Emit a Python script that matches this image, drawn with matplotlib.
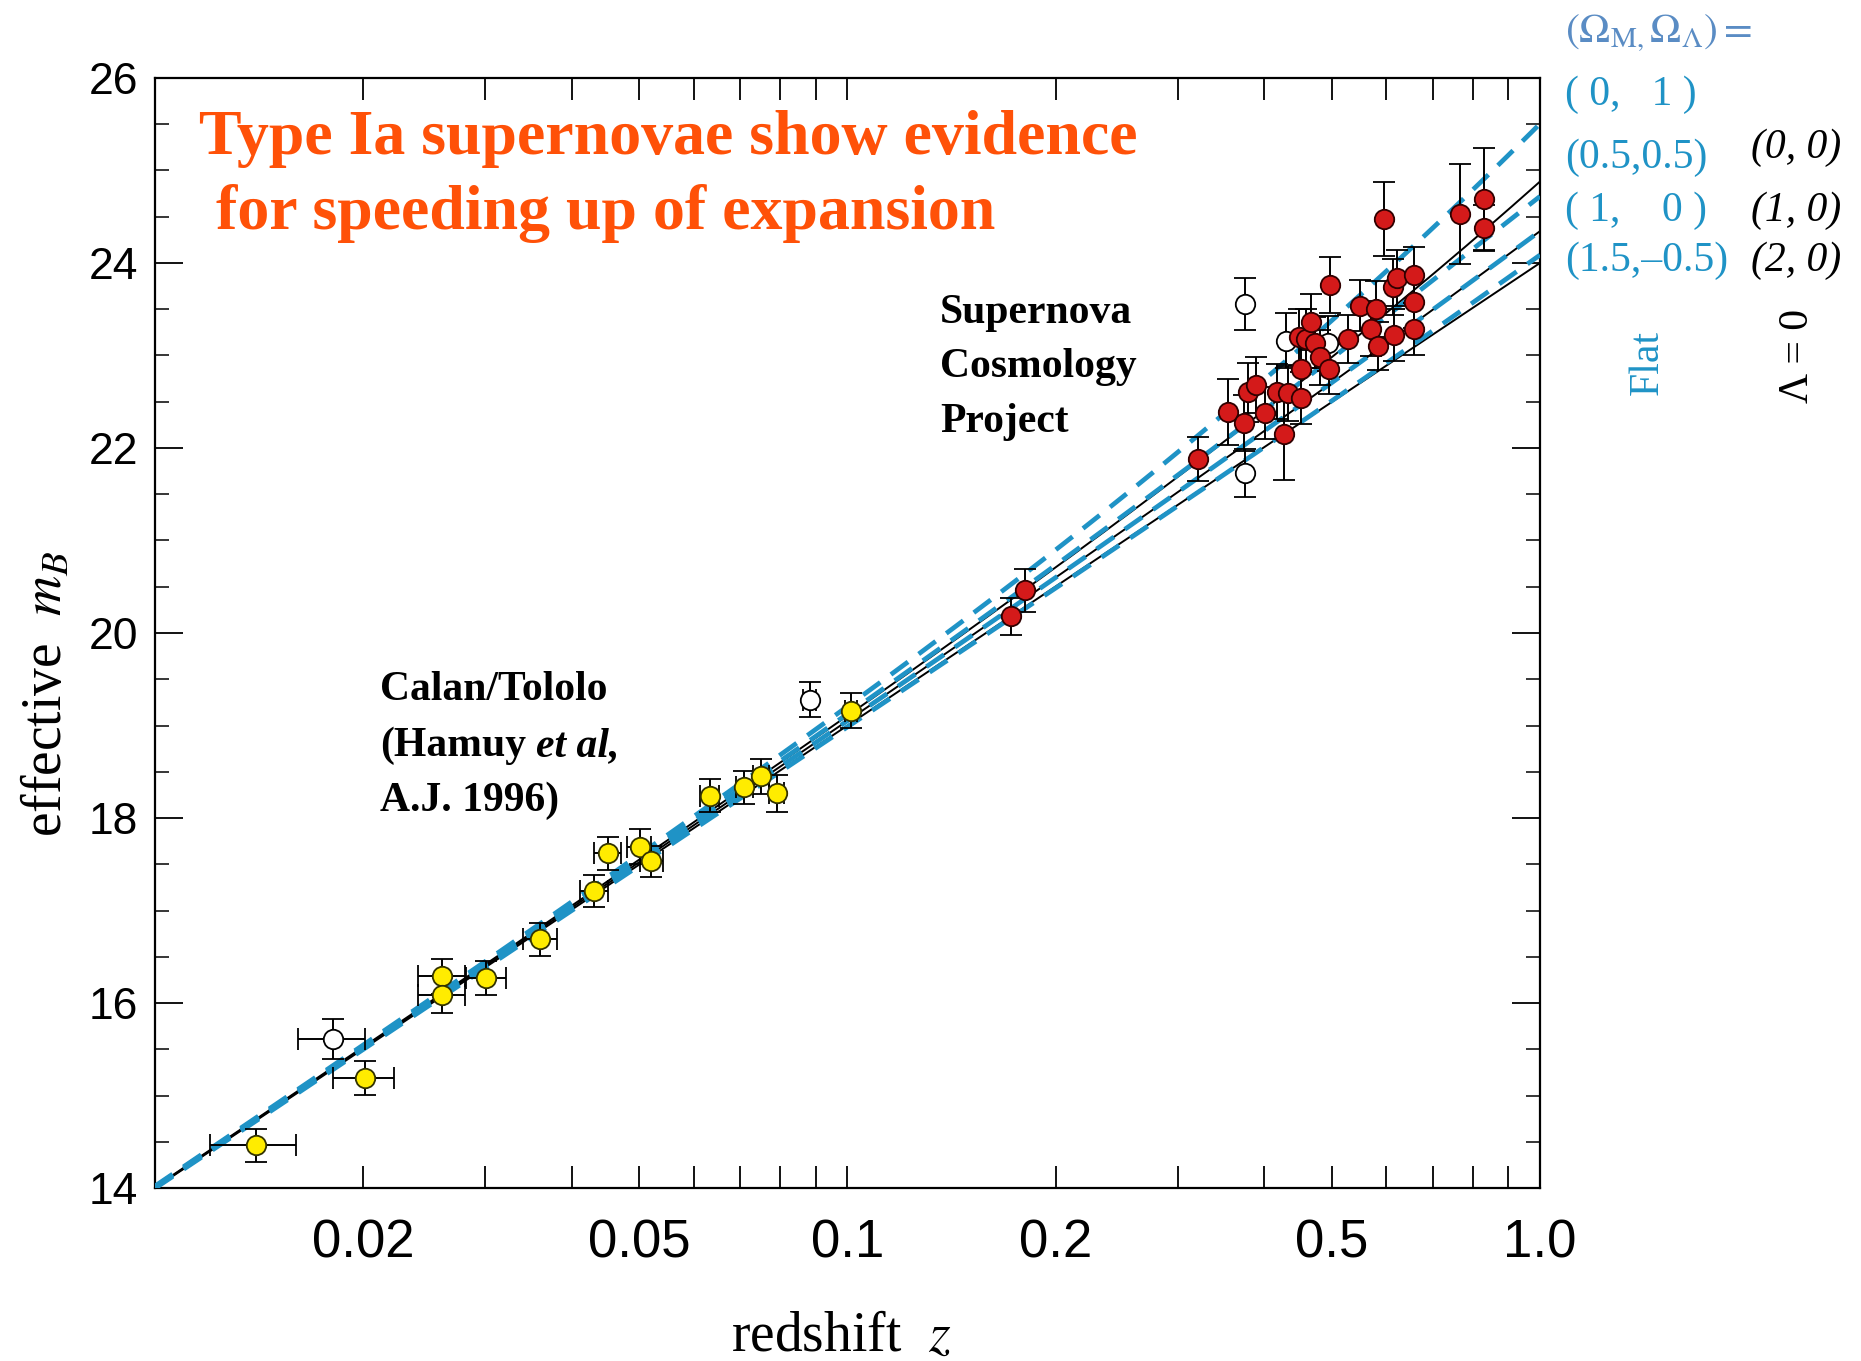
import numpy as np
import matplotlib.pyplot as plt
from matplotlib.ticker import FixedLocator, MultipleLocator, NullFormatter

plt.rcParams['font.family'] = ['Liberation Sans', 'DejaVu Sans']
plt.rcParams['mathtext.fontset'] = 'stix'

# Calan/Tololo low-redshift sample (yellow)
calan_z = [0.0140, 0.0201, 0.0260, 0.0260, 0.0301, 0.0360, 0.0431, 0.0451,
           0.0501, 0.0521, 0.0633, 0.0710, 0.0751, 0.0791, 0.1013]
calan_m = [14.46, 15.19, 16.29, 16.09, 16.27, 16.69, 17.21, 17.62,
           17.69, 17.53, 18.24, 18.33, 18.45, 18.27, 19.16]
calan_dm = [0.18, 0.18, 0.19, 0.20, 0.18, 0.18, 0.17, 0.18,
            0.19, 0.17, 0.18, 0.18, 0.19, 0.20, 0.19]
calan_dz = [0.002, 0.002, 0.002, 0.002, 0.002, 0.002, 0.002, 0.002,
            0.002, 0.002, 0.002, 0.002, 0.002, 0.002, 0.002]

# Supernova Cosmology Project high-redshift sample (red)
scp_z = [0.1724, 0.1803, 0.3212, 0.3545, 0.3732, 0.3782, 0.3888, 0.4010,
         0.4169, 0.4263, 0.4328, 0.4515, 0.4515, 0.4490, 0.4590, 0.4668,
         0.4735, 0.4814, 0.4960, 0.4977, 0.5284, 0.5499, 0.5700, 0.5800,
         0.5828, 0.5945, 0.6160, 0.6127, 0.6214, 0.6582, 0.6582, 0.6582,
         0.7672, 0.8308, 0.8308]
scp_m = [20.18, 20.46, 21.88, 22.39, 22.27, 22.60, 22.68, 22.38,
         22.61, 22.15, 22.59, 22.54, 22.85, 23.20, 23.18, 23.36,
         23.14, 22.98, 22.85, 23.76, 23.18, 23.54, 23.29, 23.50,
         23.10, 24.48, 23.22, 23.74, 23.84, 23.87, 23.58, 23.29,
         24.53, 24.69, 24.38]
scp_dm = [0.20, 0.23, 0.24, 0.36, 0.30, 0.32, 0.30, 0.28,
          0.30, 0.50, 0.30, 0.28, 0.30, 0.30, 0.32, 0.30,
          0.28, 0.30, 0.27, 0.30, 0.26, 0.28, 0.30, 0.30,
          0.26, 0.40, 0.28, 0.30, 0.30, 0.30, 0.28, 0.28,
          0.54, 0.55, 0.25]

# excluded objects (open circles)
excl_z = [0.0181, 0.0882, 0.3751, 0.3751, 0.4295, 0.4934]
excl_m = [15.61, 19.28, 23.56, 21.73, 23.16, 23.13]
excl_dm = [0.22, 0.19, 0.28, 0.26, 0.30, 0.30]
excl_dz = [0.002, 0.002, 0.0, 0.0, 0.0, 0.0]

# model curves (Omega_M, Omega_Lambda)
lambda0_models = [(0.0, 0.0), (1.0, 0.0), (2.0, 0.0)]
flat_models = [(0.0, 1.0), (0.5, 0.5), (1.0, 0.0), (1.5, -0.5)]
M_SCRIPT = 24.0

xtick_vals = [0.02, 0.05, 0.1, 0.2, 0.5, 1.0]
xtick_labels = ['0.02', '0.05', '0.1', '0.2', '0.5', '1.0']
xminor_vals = [0.03, 0.04, 0.06, 0.07, 0.08, 0.09, 0.3, 0.4, 0.6, 0.7, 0.8, 0.9]
ytick_vals = [14, 16, 18, 20, 22, 24, 26]

BLUE = '#1f93c6'
SERIF = ['Liberation Serif', 'DejaVu Serif']


def lum_dist(z, om, ol):
    # dimensionless luminosity distance H0*dL/c
    ok = 1.0 - om - ol
    out = []
    for zi in z:
        zz = np.linspace(0.0, zi, 200)
        ez = np.sqrt(om * (1 + zz) ** 3 + ok * (1 + zz) ** 2 + ol)
        dc = np.trapezoid(1.0 / ez, zz)
        if ok > 1e-8:
            dm = np.sinh(np.sqrt(ok) * dc) / np.sqrt(ok)
        elif ok < -1e-8:
            dm = np.sin(np.sqrt(-ok) * dc) / np.sqrt(-ok)
        else:
            dm = dc
        out.append((1 + zi) * dm)
    return np.array(out)


fig = plt.figure(figsize=(18.61, 13.61), dpi=100)
ax = fig.add_axes([0.0833, 0.1271, 0.7442, 0.8156])

zgrid = np.logspace(-2, 0, 300)
for om, ol in lambda0_models:
    ax.plot(zgrid, M_SCRIPT + 5 * np.log10(lum_dist(zgrid, om, ol)),
            color='black', lw=1.4, zorder=2)
for om, ol in flat_models:
    ax.plot(zgrid, M_SCRIPT + 5 * np.log10(lum_dist(zgrid, om, ol)),
            color=BLUE, lw=3.4, dashes=(4.5, 2.8), zorder=3)

eb = dict(fmt='o', ms=14, ecolor='black', elinewidth=1.4,
          capsize=8, capthick=1.8, zorder=5)
ax.errorbar(excl_z, excl_m, yerr=excl_dm, xerr=excl_dz,
            mfc='white', mec='black', mew=1.3, **eb)
ax.errorbar(calan_z, calan_m, yerr=calan_dm, xerr=calan_dz,
            mfc='#ffec00', mec='#333300', mew=1.3, **eb)
ax.errorbar(scp_z, scp_m, yerr=scp_dm,
            mfc='#d41a1a', mec='#300000', mew=1.3, **eb)

ax.set_xscale('log')
ax.set_xlim(0.01, 1.0)
ax.set_ylim(14, 26)
ax.xaxis.set_major_locator(FixedLocator(xtick_vals))
ax.xaxis.set_minor_locator(FixedLocator(xminor_vals))
ax.xaxis.set_minor_formatter(NullFormatter())
ax.set_xticklabels(xtick_labels)
ax.yaxis.set_major_locator(FixedLocator(ytick_vals))
ax.yaxis.set_minor_locator(MultipleLocator(0.5))

ax.tick_params(axis='x', which='both', direction='in', length=16, width=1.3,
               top=True, pad=22, labelsize=38)
ax.tick_params(axis='y', which='major', direction='in', length=20, width=1.3,
               right=True, pad=12, labelsize=32)
ax.tick_params(axis='y', which='minor', direction='in', length=10, width=1.1,
               right=True)
for lbl in ax.get_xticklabels():
    lbl.set_family(['Liberation Sans Narrow', 'Liberation Sans'])
for sp in ax.spines.values():
    sp.set_linewidth(1.6)

# axis labels
fig.text(0.0253, 0.490, r'effective  $m_B$', rotation=90, ha='center',
         va='center', fontsize=40, family=SERIF)
fig.text(0.452, 0.018, r'redshift  $z$', ha='center', va='center',
         fontsize=40, family=SERIF)

# title
orange = '#ff5108'
fig.text(0.1072, 0.8868, 'Type Ia supernovae show evidence', color=orange,
         fontsize=46, fontweight='bold', family=SERIF, va='baseline')
fig.text(0.1160, 0.8317, 'for speeding up of expansion', color=orange,
         fontsize=46, fontweight='bold', family=SERIF, va='baseline')

# sample labels
for txt, yy in [('Supernova', 0.7627), ('Cosmology', 0.7230), ('Project', 0.6826)]:
    fig.text(0.5051, yy, txt, fontsize=30, fontweight='bold', family=SERIF,
             va='baseline')
fig.text(0.2042, 0.4857, 'Calan/Tololo', fontsize=30, fontweight='bold',
         family=SERIF, va='baseline')
hamuy = fig.text(0.2042, 0.4445, '(Hamuy', fontsize=30, fontweight='bold',
                 family=SERIF, va='baseline')
etal = fig.text(0.2042, 0.4445, 'et al,', fontsize=30, fontweight='bold',
                fontstyle='italic', family=SERIF, va='baseline')
fig.text(0.2042, 0.4041, 'A.J. 1996)', fontsize=30, fontweight='bold',
         family=SERIF, va='baseline')

# model key on the right
fig.text(0.841, 0.9758, r'$(\Omega_{\mathrm{M},}\Omega_{\Lambda}) =$',
         color='#5a8cc4', fontsize=30, va='center')
for txt, yy in [('( 0,   1 )', 0.9302), ('(0.5,0.5)', 0.8839),
                ('( 1,    0 )', 0.845), ('(1.5,\u20130.5)', 0.8082)]:
    fig.text(0.841, yy, txt, color=BLUE, fontsize=30, family=SERIF, va='center')
for txt, yy in [('(0, 0)', 0.8913), ('(1, 0)', 0.845), ('(2, 0)', 0.8082)]:
    fig.text(0.9409, yy, txt, color='black', fontsize=30, family=SERIF,
             fontstyle='italic', va='center')
fig.text(0.8855, 0.734, 'Flat', color=BLUE, fontsize=30, family=SERIF,
         rotation=90, ha='center', va='center')
fig.text(0.9662, 0.7384, '\u039b = 0', color='black', fontsize=30,
         family=SERIF, rotation=90, ha='center', va='center')

# put "et al," just right of "(Hamuy"
fig.canvas.draw()
bb = hamuy.get_window_extent(fig.canvas.get_renderer())
etal.set_x((bb.x1 + 10) / fig.bbox.width)

plt.savefig('out.png', dpi=100)
plt.close()
